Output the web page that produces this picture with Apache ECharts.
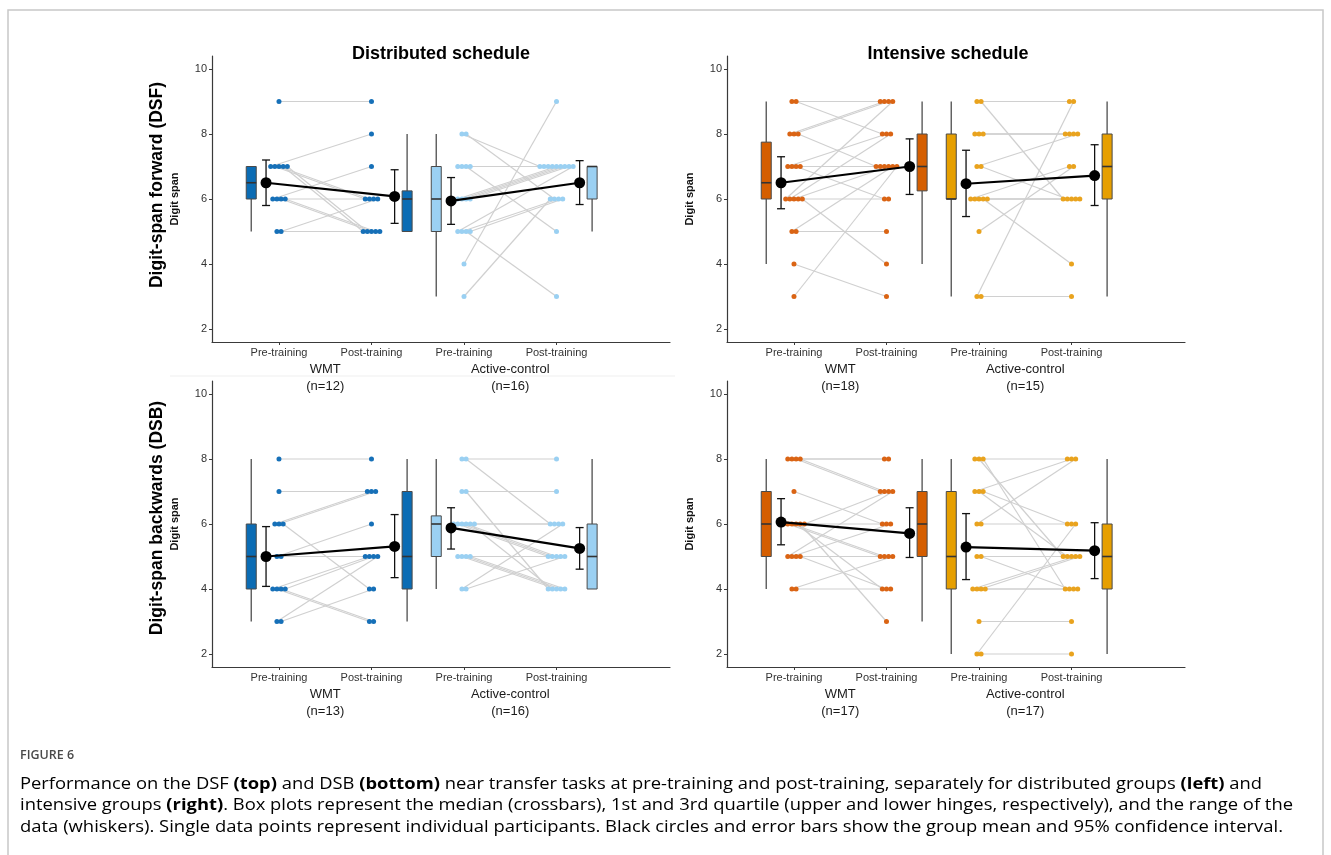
<!DOCTYPE html>
<html><head><meta charset="utf-8">
<script src="https://cdn.jsdelivr.net/npm/echarts@6/dist/echarts.min.js"></script>
<style>html,body{margin:0;padding:0;background:#fff}#c{width:1331px;height:855px}</style>
</head><body><div id="c"></div>
<script>
// ================= DATA =================
const timeLabels = ['Pre-training', 'Post-training', 'Pre-training', 'Post-training'];
const groupNames = ['WMT', 'Active-control'];
const yTicks = [2, 4, 6, 8, 10];

// Distributed schedule – DSF (top-left)
const distDSF_n = [12, 16];
const distDSF_wmtPre  = [9,7,7,7,7,7,6,6,6,6,5,5];
const distDSF_wmtPost = [9,8,6,6,5,5,7,6,5,5,5,6];
const distDSF_acPre   = [3,4,8,8,7,7,7,7,6,6,6,6,5,5,5,5];
const distDSF_acPost  = [6,9,7,6,7,7,5,7,7,7,7,7,7,6,3,6];
const distDSF_box  = [[5,6,6.5,7,7],[5,5,6,6.25,8],[3,5,6,7,8],[5,6,7,7,7]];
const distDSF_mean = [6.5, 6.08, 5.94, 6.5];
const distDSF_ciLow  = [5.8, 5.25, 5.22, 5.83];
const distDSF_ciHigh = [7.2, 6.9, 6.66, 7.18];

// Intensive schedule – DSF (top-right)
const intDSF_n = [18, 15];
const intDSF_wmtPre  = [9,9,8,8,8,7,7,7,7,6,6,6,6,6,5,5,4,3];
const intDSF_wmtPost = [9,8,9,9,7,8,7,6,7,9,8,7,6,4,7,5,3,7];
const intDSF_acPre   = [9,9,8,8,8,7,7,6,6,6,6,6,5,3,3];
const intDSF_acPost  = [9,6,8,8,8,8,6,7,6,6,4,6,7,9,3];
const intDSF_box  = [[4,6,6.5,7.75,9],[4,6.25,7,8,9],[3,6,6,8,9],[3,6,7,8,9]];
const intDSF_mean = [6.5, 7.0, 6.47, 6.72];
const intDSF_ciLow  = [5.7, 6.14, 5.46, 5.8];
const intDSF_ciHigh = [7.3, 7.85, 7.5, 7.67];

// Distributed schedule – DSB (bottom-left)
const distDSB_n = [13, 16];
const distDSB_wmtPre  = [8,7,6,6,6,5,5,4,4,4,4,3,3];
const distDSB_wmtPost = [8,7,7,7,4,6,5,5,3,3,5,5,4];
const distDSB_acPre   = [8,8,7,7,6,6,6,6,6,6,5,5,5,5,4,4];
const distDSB_acPost  = [8,6,7,4,6,5,5,5,4,6,5,4,4,4,6,5];
const distDSB_box  = [[3,4,5,6,8],[3,4,5,7,8],[4,5,6,6.25,8],[4,4,5,6,8]];
const distDSB_mean = [5.0, 5.31, 5.88, 5.25];
const distDSB_ciLow  = [4.08, 4.35, 5.23, 4.61];
const distDSB_ciHigh = [5.92, 6.29, 6.5, 5.89];

// Intensive schedule – DSB (bottom-right)
const intDSB_n = [17, 17];
const intDSB_wmtPre  = [8,8,8,8,7,6,6,6,6,6,6,5,5,5,5,4,4];
const intDSB_wmtPost = [8,8,7,7,6,6,5,5,4,3,7,7,6,5,4,5,4];
const intDSB_acPre   = [8,8,8,7,7,7,6,6,5,5,4,4,4,4,3,2,2];
const intDSB_acPost  = [8,5,4,8,5,6,8,6,5,4,5,4,5,4,3,6,2];
const intDSB_box  = [[4,5,6,7,8],[3,5,6,7,8],[2,4,5,7,8],[2,4,5,6,8]];
const intDSB_mean = [6.06, 5.71, 5.29, 5.18];
const intDSB_ciLow  = [5.36, 4.97, 4.29, 4.32];
const intDSB_ciHigh = [6.78, 6.5, 6.32, 6.04];

// ================= LAYOUT / STYLE =================
const FONT = '"Liberation Sans", Arial, sans-serif';
const X_MIN = 0.2757, X_MAX = 5.227;
const OFF_BOX = [-0.30, 0.385];   // pre, post
const OFF_MEAN = [-0.14, 0.25];
const GRID_W = 458, GRID_H = 286;

const panels = [
  {left:212, top:56,  n:distDSF_n, pre:[distDSF_wmtPre, distDSF_acPre], post:[distDSF_wmtPost, distDSF_acPost],
   box:distDSF_box, mean:distDSF_mean, lo:distDSF_ciLow, hi:distDSF_ciHigh, fill:['#0b6cb4','#9bd0f2'], dot:['#1670b8','#9ad0f2']},
  {left:727, top:56,  n:intDSF_n, pre:[intDSF_wmtPre, intDSF_acPre], post:[intDSF_wmtPost, intDSF_acPost],
   box:intDSF_box, mean:intDSF_mean, lo:intDSF_ciLow, hi:intDSF_ciHigh, fill:['#d55e00','#e69f00'], dot:['#da6414','#e9a31e']},
  {left:212, top:381, n:distDSB_n, pre:[distDSB_wmtPre, distDSB_acPre], post:[distDSB_wmtPost, distDSB_acPost],
   box:distDSB_box, mean:distDSB_mean, lo:distDSB_ciLow, hi:distDSB_ciHigh, fill:['#0b6cb4','#9bd0f2'], dot:['#1670b8','#9ad0f2']},
  {left:727, top:381, n:intDSB_n, pre:[intDSB_wmtPre, intDSB_acPre], post:[intDSB_wmtPost, intDSB_acPost],
   box:intDSB_box, mean:intDSB_mean, lo:intDSB_ciLow, hi:intDSB_ciHigh, fill:['#d55e00','#e69f00'], dot:['#da6414','#e9a31e']}
];

function spread(arr){
  const cnt = {}, seen = {};
  arr.forEach(v => cnt[v] = (cnt[v] || 0) + 1);
  return arr.map(v => { const k = (seen[v] = (seen[v] || 0) + 1) - 1; return (k - (cnt[v] - 1) / 2) * 0.045; });
}

const grids = [], xAxes = [], yAxes = [], series = [];
panels.forEach((p, g) => {
  grids.push({left:p.left, top:p.top, width:GRID_W, height:GRID_H});
  xAxes.push({type:'value', gridIndex:g, position:'bottom', min:X_MIN, max:X_MAX,
    axisLine:{show:true, onZero:false, lineStyle:{color:'#3a3a3a', width:1.2}},
    axisTick:{show:true, length:3, customValues:[1,2,3,4], lineStyle:{color:'#3a3a3a'}},
    axisLabel:{customValues:[1,2,3,4], formatter:v => timeLabels[Math.round(v) - 1], fontSize:11, color:'#333', margin:5, fontFamily:FONT},
    splitLine:{show:false}});
  xAxes.push({type:'value', gridIndex:g, position:'bottom', offset:0, min:X_MIN, max:X_MAX,
    axisLine:{show:false}, axisTick:{show:false},
    axisLabel:{customValues:[1.5,3.5], formatter:v => (v < 2 ? groupNames[0] + '\n(n=' + p.n[0] + ')' : groupNames[1] + '\n(n=' + p.n[1] + ')'),
      fontSize:13, lineHeight:17, color:'#1a1a1a', margin:19, fontFamily:FONT},
    splitLine:{show:false}});
  yAxes.push({type:'value', gridIndex:g, min:1.6, max:10.4,
    name:'Digit span', nameLocation:'middle', nameGap:32, nameTextStyle:{fontSize:11, fontWeight:'bold', color:'#111', fontFamily:FONT},
    axisLine:{show:true, lineStyle:{color:'#3a3a3a', width:1.2}},
    axisTick:{show:true, length:3, customValues:yTicks, lineStyle:{color:'#3a3a3a'}},
    axisLabel:{customValues:yTicks, fontSize:11, color:'#333', margin:5, fontFamily:FONT},
    splitLine:{show:false}});
  const xi = 2 * g;

  // connecting lines and points
  const segs = [];
  const pts = [[], []];
  [0, 1].forEach(gi => {
    const pre = p.pre[gi], post = p.post[gi];
    const jp = spread(pre), jq = spread(post);
    pre.forEach((v, i) => {
      segs.push([1 + 2 * gi + jp[i], v, 2 + 2 * gi + jq[i], post[i]]);
      pts[gi].push([1 + 2 * gi + jp[i], v]);
      pts[gi].push([2 + 2 * gi + jq[i], post[i]]);
    });
  });
  series.push({type:'custom', xAxisIndex:xi, yAxisIndex:g, z:1, silent:true, encode:{x:[0,2], y:[1,3]}, data:segs,
    renderItem:(params, api) => {
      const a = api.coord([api.value(0), api.value(1)]), b = api.coord([api.value(2), api.value(3)]);
      return {type:'line', shape:{x1:a[0], y1:a[1], x2:b[0], y2:b[1]}, style:{stroke:'#d0d0d0', lineWidth:1.2}};
    }});

  // boxes
  const boxData = p.box.map((b, j) => [Math.floor(j / 2) * 2 + 1 + (j % 2) + OFF_BOX[j % 2], b[0], b[1], b[2], b[3], b[4], Math.floor(j / 2)]);
  series.push({type:'custom', xAxisIndex:xi, yAxisIndex:g, z:2, silent:true, encode:{x:0, y:[1,5]}, data:boxData,
    renderItem:(params, api) => {
      const x = api.value(0);
      const c = k => api.coord([x, api.value(k)]);
      const pMin = c(1), pQ1 = c(2), pMed = c(3), pQ3 = c(4), pMax = c(5);
      const w = 10, cx = pMin[0];
      const col = p.fill[api.value(6)];
      return {type:'group', children:[
        {type:'line', shape:{x1:cx, y1:pMax[1], x2:cx, y2:pQ3[1]}, style:{stroke:'#5a5a5a', lineWidth:1.4}},
        {type:'line', shape:{x1:cx, y1:pQ1[1], x2:cx, y2:pMin[1]}, style:{stroke:'#5a5a5a', lineWidth:1.4}},
        {type:'rect', shape:{x:cx - w / 2, y:pQ3[1], width:w, height:pQ1[1] - pQ3[1]}, style:{fill:col, stroke:'#4a4a4a', lineWidth:1}},
        {type:'line', shape:{x1:cx - w / 2, y1:pMed[1], x2:cx + w / 2, y2:pMed[1]}, style:{stroke:'#333', lineWidth:1.6}}
      ]};
    }});

  // individual points
  [0, 1].forEach(gi => {
    series.push({type:'scatter', xAxisIndex:xi, yAxisIndex:g, z:3, silent:true, symbol:'circle', symbolSize:5,
      itemStyle:{color:p.dot[gi], opacity:1}, data:pts[gi]});
  });

  // error bars (95% CI)
  const ebData = p.mean.map((m, j) => [Math.floor(j / 2) * 2 + 1 + (j % 2) + OFF_MEAN[j % 2], p.lo[j], p.hi[j]]);
  series.push({type:'custom', xAxisIndex:xi, yAxisIndex:g, z:4, silent:true, encode:{x:0, y:[1,2]}, data:ebData,
    renderItem:(params, api) => {
      const a = api.coord([api.value(0), api.value(1)]), b = api.coord([api.value(0), api.value(2)]);
      const cw = 4, st = {stroke:'#111', lineWidth:1.3};
      return {type:'group', children:[
        {type:'line', shape:{x1:a[0], y1:a[1], x2:b[0], y2:b[1]}, style:st},
        {type:'line', shape:{x1:a[0] - cw, y1:a[1], x2:a[0] + cw, y2:a[1]}, style:st},
        {type:'line', shape:{x1:b[0] - cw, y1:b[1], x2:b[0] + cw, y2:b[1]}, style:st}
      ]};
    }});

  // mean lines and dots
  const meanPts = p.mean.map((m, j) => [Math.floor(j / 2) * 2 + 1 + (j % 2) + OFF_MEAN[j % 2], m]);
  [0, 1].forEach(gi => {
    series.push({type:'line', xAxisIndex:xi, yAxisIndex:g, z:5, silent:true, symbol:'none',
      lineStyle:{color:'#000', width:2.2, opacity:1}, data:[meanPts[2 * gi], meanPts[2 * gi + 1]]});
  });
  series.push({type:'scatter', xAxisIndex:xi, yAxisIndex:g, z:6, silent:true, symbol:'circle', symbolSize:11,
    itemStyle:{color:'#000', opacity:1}, data:meanPts});
});

// ================= TEXT / GRAPHIC =================
const CAP_FONT = '"Open Sans", "Noto Sans", sans-serif';
const CAP_SIZE = 16.5;
const captionLines = [
  {y:784, end:1262, segs:[['Performance on the DSF ',0],['(top)',1],[' and DSB ',0],['(bottom)',1],[' near transfer tasks at pre-training and post-training, separately for distributed groups ',0],['(left)',1],[' and',0]]},
  {y:805.5, end:1293, segs:[['intensive groups ',0],['(right)',1],['. Box plots represent the median (crossbars), 1st and 3rd quartile (upper and lower hinges, respectively), and the range of the',0]]},
  {y:827, end:1283, segs:[['data (whiskers). Single data points represent individual participants. Black circles and error bars show the group mean and 95% confidence interval.',0]]}
];
const mctx = document.createElement('canvas').getContext('2d');
function segWidth(t, b){ mctx.font = (b ? 'bold ' : '') + CAP_SIZE + 'px ' + CAP_FONT; return mctx.measureText(t).width; }

const graphics = [
  {type:'rect', shape:{x:8, y:10, width:1315, height:900}, style:{fill:'none', stroke:'#c8c8c8', lineWidth:1.5}, silent:true},
  {type:'line', shape:{x1:170, y1:376, x2:675, y2:376}, style:{stroke:'#efefef', lineWidth:1}, silent:true},
  {type:'text', x:441, y:54, style:{text:'Distributed schedule', font:'bold 18px ' + FONT, fill:'#000', textAlign:'center', textVerticalAlign:'middle'}},
  {type:'text', x:948, y:54, style:{text:'Intensive schedule', font:'bold 18px ' + FONT, fill:'#000', textAlign:'center', textVerticalAlign:'middle'}},
  {type:'text', x:157, y:185, rotation:Math.PI / 2, style:{text:'Digit-span forward (DSF)', font:'bold 17.5px ' + FONT, fill:'#000', textAlign:'center', textVerticalAlign:'middle'}},
  {type:'text', x:157, y:518, rotation:Math.PI / 2, style:{text:'Digit-span backwards (DSB)', font:'bold 17.5px ' + FONT, fill:'#000', textAlign:'center', textVerticalAlign:'middle'}}
];
// FIGURE label
(function(){
  const f = '600 12.5px ' + CAP_FONT;
  mctx.font = f;
  const w = mctx.measureText('FIGURE 6').width;
  graphics.push({type:'text', x:20, y:755, scaleX:54 / w, style:{text:'FIGURE 6', font:f, fill:'#4a4a4a', textAlign:'left', textVerticalAlign:'middle'}});
})();
captionLines.forEach(L => {
  let w = 0, txt = '';
  L.segs.forEach(s => { w += segWidth(s[0], s[1]); txt += '{' + (s[1] ? 'b' : 'n') + '|' + s[0] + '}'; });
  graphics.push({type:'text', x:20, y:L.y, scaleX:(L.end - 20) / w, style:{text:txt, textAlign:'left', textVerticalAlign:'middle',
    rich:{n:{fontFamily:CAP_FONT, fontSize:CAP_SIZE, color:'#555'}, b:{fontFamily:CAP_FONT, fontSize:CAP_SIZE, fontWeight:'bold', color:'#333'}}}});
});

const chart = echarts.init(document.getElementById('c'), null, {renderer:'canvas'});
chart.setOption({
  animation:false,
  backgroundColor:'#fff',
  grid:grids, xAxis:xAxes, yAxis:yAxes, series:series,
  graphic:graphics
});
</script>
</body></html>
